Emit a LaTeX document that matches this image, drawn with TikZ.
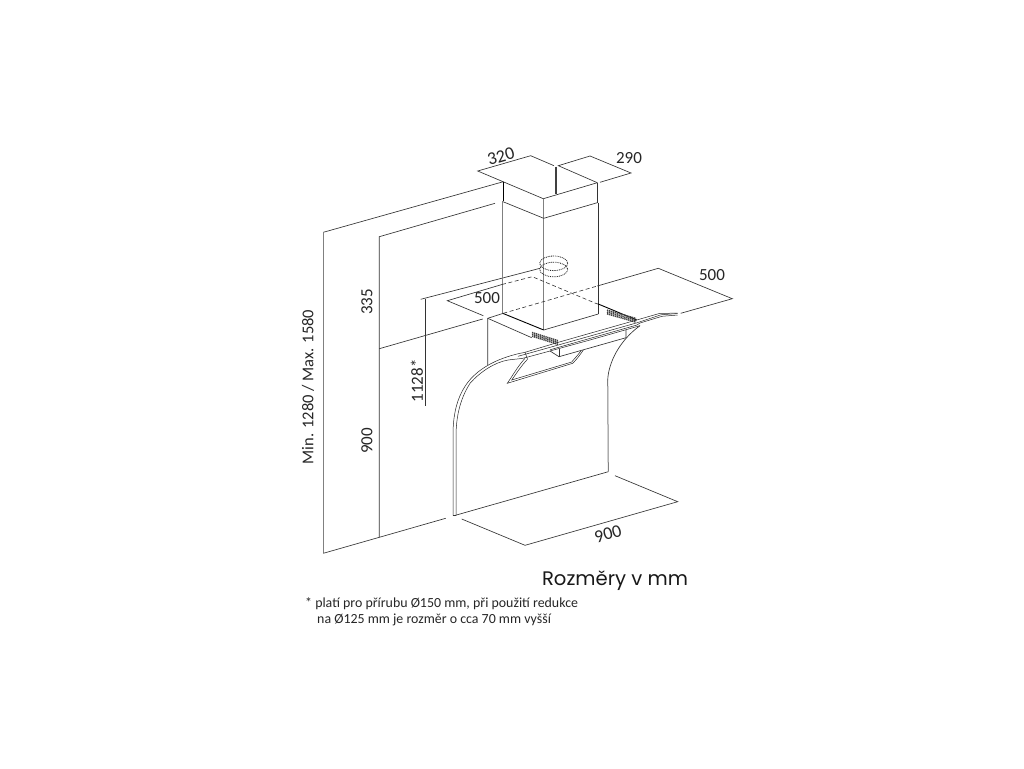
\documentclass[tikz,border=0pt]{standalone}
\usepackage{fontspec}
\setmainfont{Carlito}
\newfontfamily\headfont{Poppins}
\tikzset{
  ln/.style={line width=0.65pt,draw=black!80},
  grayln/.style={line width=1pt,draw=black!50},
  blk/.style={line width=0.9pt,draw=black},
  dsh/.style={line width=0.6pt,draw=black!80,dash pattern=on 4pt off 2.6pt},
  dot/.style={line width=0.8pt,draw=black!85,dash pattern=on 0.9pt off 0.9pt},
  dim/.style={font=\fontsize{17}{17}\selectfont,text=black!85,inner sep=0pt},
  glass/.style={line width=0.5pt,draw=black!85},
  vent/.style={line width=1.5pt,draw=black!75,dash pattern=on 1.3pt off 0.7pt}
}
\begin{document}
\begin{tikzpicture}[x=1pt,y=-1pt]
\useasboundingbox (0,0) rectangle (1024,768);
\fill[white] (0,0) rectangle (1024,768);
% wall
\draw[ln] (503.3,181.7) -- (323.3,232.3);
\draw[grayln] (323.3,232.3) -- (323.3,553.3);
\draw[ln] (323.3,553.3) -- (445.7,518.3);
\draw[ln] (495,203.3) -- (379.3,236.7) -- (379.3,537.3);
\draw[ln] (379.3,348.7) -- (482.7,319);
\draw[ln] (420.7,299.3) -- (540,268.3);
\draw[ln] (425.3,299.3) -- (425.3,405.7);
% top dimension
\draw[ln] (530.7,155.7) -- (477.7,171) -- (543.3,198.7);
\draw[ln] (530.7,155.7) -- (554,165.7);
\draw[ln] (600,182.3) -- (631,173) -- (590,156) -- (558.3,165.7) -- (597.3,182.7);
\draw[blk,line width=1.2pt,draw=black!75] (556,166.7) -- (556,193.5);
\draw[ln] (543.3,198.7) -- (597.3,182.7);
% duct
\draw[blk] (503.3,181.7) -- (503.3,201);
\draw[grayln] (502.7,201) -- (502.7,313.3);
\draw[grayln] (543.7,198.7) -- (543.7,330);
\draw[ln] (597.5,182.7) -- (597.5,202.7);
\draw[ln] (598.3,202.7) -- (598.3,314);
\draw[ln] (503,201.7) -- (543.7,218.3) -- (597.3,202.7);
\draw[blk] (502.7,313.3) -- (543.7,330);
\draw[ln] (543.7,330) -- (598.3,314);
% duct opening
\draw[dot] (553.7,263.3) ellipse [x radius=14,y radius=7.3];
\draw[dot] (553.7,269.5) ellipse [x radius=14,y radius=7.3];
% 500 dims
\draw[ln] (483.3,315.7) -- (447.3,300.7) -- (502,284.5);
\draw[dsh] (502,284.5) -- (532.3,276.7) -- (597.3,304);
\draw[blk] (597.5,303.7) -- (636.7,320);
\draw[dsh] (503.3,313.3) -- (597.3,286);
\draw[ln] (597.3,286) -- (658.3,268.3) -- (732.3,298.7) -- (680.7,313.3);
% hood body
\draw[ln] (487.7,365) -- (487.7,318.3) -- (503.3,313.3);
\draw[ln] (487.7,318.3) -- (531.7,337.7);
% vents
\foreach \d in {-1.8,0,1.8}{
  \draw[vent] (532,{334.3+\d}) -- (558,{342.5+\d});
  \draw[vent] (607,{312+\d}) -- (636,{320.3+\d});
}
% glass strip: upper lines and the arc that continues them
\draw[glass] (677.7,313.2) -- (660,313.3) -- (636.7,320) -- (558.3,342.3) -- (525,352.3)
   .. controls (500,357) and (480,367) .. (468.3,381.7)
   .. controls (458,395) and (453,412) .. (453,435) -- (453,515.7);
\draw[glass] (677.7,313.5) -- (661,314.8) -- (637,322.8) -- (558.3,345) -- (518,356.3);
\draw[glass] (677.7,315) -- (662,316.3) -- (640,323) -- (637,325) -- (558.3,347.4) -- (550,349.8);
\draw[glass] (640,325.7) -- (590,340) -- (550,351) -- (526,357.5)
   .. controls (522,359) and (514,359) .. (508.3,360)
   .. controls (495,362) and (480,372) .. (470,383.3)
   .. controls (462,396) and (456.3,412) .. (456,435) -- (456,515.7);
\draw[glass] (525,352.3) -- (527.5,359);
\draw[ln] (453,515.7) -- (456,515.7);
% lower glass/back panel
\draw[ln] (454,515.7) -- (608.3,471.7);
\draw[grayln] (608.3,471.7) -- (607.7,380);
\draw[ln] (607.7,380) .. controls (608.5,362) and (620,340) .. (640,325.7);
% under-hood box and cut-out
\draw[ln] (550,351) -- (559,356.7) -- (626,337.7) -- (626,330);
\draw[ln] (559,349) -- (559,356.7);
\draw[glass] (525,358.3) .. controls (518,366) and (513,375) .. (507.3,383.3)
   -- (572.7,363.3) .. controls (577,359) and (580,355) .. (583.3,350);
\draw[glass] (527.5,359.3) .. controls (521,366) and (516,374) .. (511.7,380)
   -- (571.7,362) .. controls (575,358) and (578,355) .. (581,350.8);
% 900 bottom
\draw[ln] (461.7,519) -- (525,545.3) -- (677.7,501.7) -- (615,475.7);
% text
\node[dim,rotate=16,font=\fontsize{18}{18}\selectfont] (d320) at (501,156.5) {320};
\node[dim] (d290) at (629,158) {290};
\node[dim] (d500r) at (712,275) {500};
\node[dim] (d500l) at (487,298.5) {500};
\node[dim,rotate=90] (d335) at (367,302) {335};
\node[dim,rotate=90] (d1128) at (417,381) {1128*};
\node[dim,rotate=90] (d900l) at (367,441) {900};
\node[dim,rotate=90,font=\fontsize{16.5}{16.5}\selectfont] (dminmax) at (308,387) {Min. 1280 / Max. 1580};
\node[dim,rotate=16,font=\fontsize{18}{18}\selectfont] (d900b) at (608,534) {900};
\node[inner sep=0pt,text=black!90] (title) at (615,581) {\headfont\fontsize{19.6}{19.6}\selectfont Rozměry v mm};
\node[anchor=west,inner sep=0pt,text=black!85] (note1) at (305,604) {\fontsize{13.9}{13.9}\selectfont * platí pro přírubu Ø150 mm, při použití redukce};
\node[anchor=west,inner sep=0pt,text=black!85] (note2) at (317,620) {\fontsize{13.9}{13.9}\selectfont na Ø125 mm je rozměr o cca 70 mm vyšší};
\end{tikzpicture}
\end{document}
